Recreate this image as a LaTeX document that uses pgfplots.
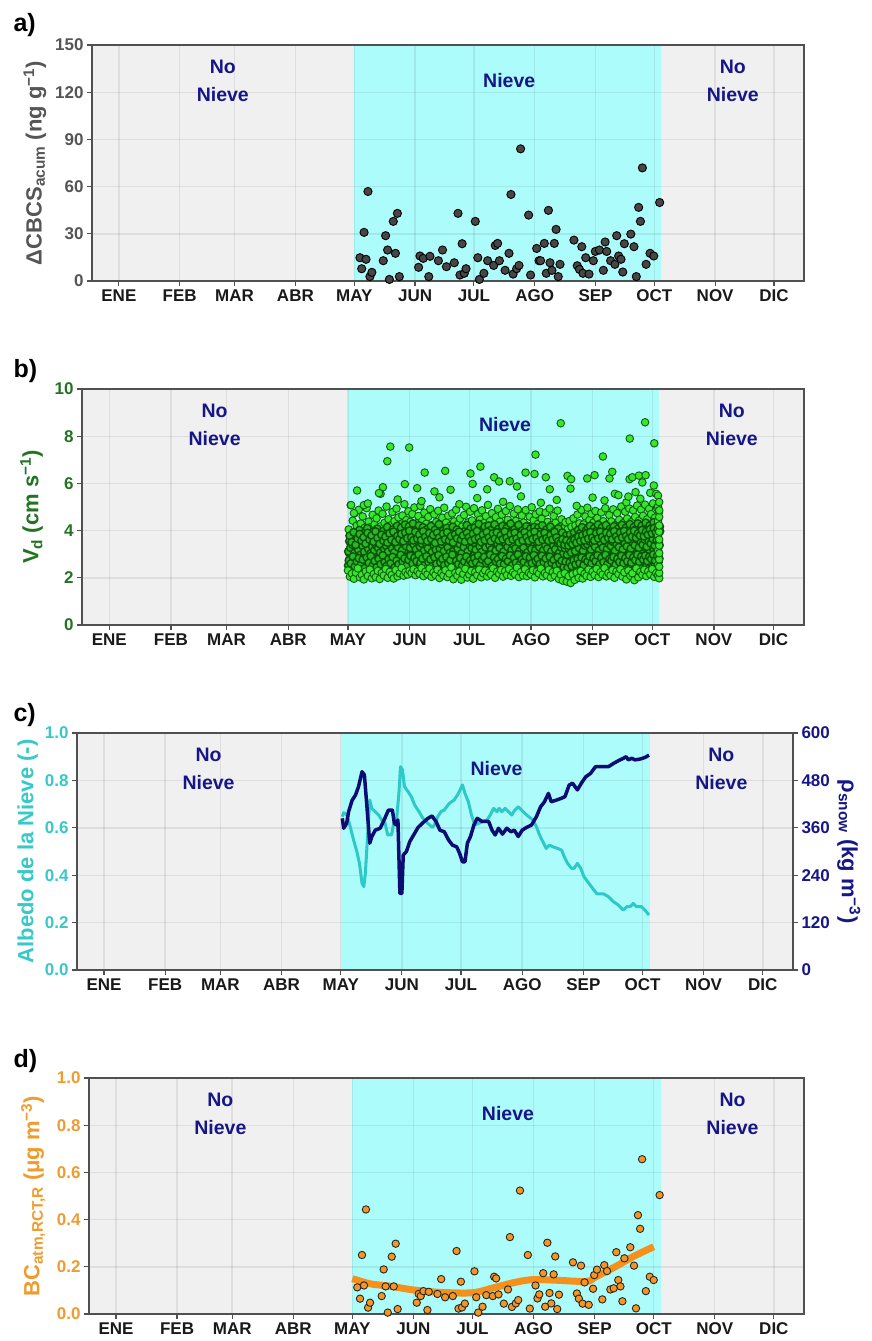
\documentclass[border=0pt]{standalone}
\usepackage{fontspec}
\setmainfont{Liberation Sans}
\usepackage{pgfplots}
\usepackage{pgfplotstable}
\pgfplotsset{compat=1.18}

\definecolor{bggray}{RGB}{240,240,240}
\definecolor{snowc}{RGB}{173,252,252}
\definecolor{axgray}{RGB}{80,80,80}
\definecolor{navytxt}{RGB}{22,22,135}
\definecolor{navyline}{RGB}{12,12,115}
\definecolor{cyanline}{RGB}{45,200,200}
\definecolor{cyantick}{RGB}{55,200,200}
\definecolor{greentxt}{RGB}{35,115,35}
\definecolor{greenfill}{RGB}{55,230,45}
\definecolor{greenedge}{RGB}{12,95,12}
\definecolor{greenmid}{RGB}{40,185,35}
\definecolor{greendark}{RGB}{10,85,10}
\definecolor{orangetxt}{RGB}{240,155,45}
\definecolor{orangefill}{RGB}{245,150,35}
\definecolor{orangeline}{RGB}{244,144,28}
\definecolor{ptgray}{RGB}{70,70,70}
\definecolor{graytxt}{RGB}{85,85,85}
\definecolor{tickblack}{RGB}{25,25,25}

\newcommand{\tickfont}{\fontsize{17}{20}\selectfont\bfseries}
\newcommand{\labfont}{\fontsize{22}{26}\selectfont\bfseries}
\newcommand{\annfont}{\fontsize{19.5}{28}\selectfont\bfseries}
\newcommand{\titfont}{\fontsize{25}{29}\selectfont\bfseries}

\tikzset{annot/.style={font=\annfont, text=navytxt, align=center}}

\pgfplotsset{
  panel/.style={
    set layers,
    scale only axis,
    xmin=-12.7, xmax=350.3,
    xtick={1,32,60,91,121,152,182,213,244,274,305,335},
    xticklabels={ENE,FEB,MAR,ABR,MAY,JUN,JUL,AGO,SEP,OCT,NOV,DIC},
    xtick pos=bottom, ytick pos=left,
    tick align=outside,
    major tick length=5pt,
    tick style={line width=1.2pt, draw=axgray},
    axis line style={line width=1.3pt, draw=axgray},
    grid=major,
    major grid style={line width=1.4pt, draw=black, draw opacity=0.075},
    ticklabel style={font=\tickfont},
    xticklabel style={text=tickblack},
    /pgf/number format/assume math mode=true,
    ylabel style={font=\labfont, anchor=base},
  },
  markB/.style={only marks, mark=*, mark size=3.8pt, mark options={fill=greenfill, draw=greenedge, line width=0.9pt}},
  markBin/.style={only marks, mark=*, mark size=3.8pt, mark options={fill=greenmid, draw=greendark, line width=1.4pt}},
}

% ---------- panel a data ----------
\pgfplotstableread{
d v
123.9 14.8
127.0 13.8
124.8 7.8
129.0 2.8
130.0 5.5
126.0 30.9
128.0 56.9
135.8 12.9
137.0 28.8
138.0 19.7
138.9 1.0
142.0 17.6
140.9 37.9
143.0 43.0
144.0 2.8
153.8 8.7
154.5 15.9
156.2 14.4
159.6 15.7
159.0 2.8
163.9 12.9
166.0 19.7
168.0 9.1
172.0 11.6
173.9 43.0
176.0 23.7
174.9 3.8
177.1 4.9
178.0 7.8
182.7 37.9
184.0 14.8
184.8 1.0
187.1 4.9
189.0 12.9
192.1 9.9
192.9 22.6
194.1 23.9
195.0 12.9
197.9 6.8
199.9 17.6
200.9 55.0
202.0 4.4
203.8 7.8
205.0 9.9
205.8 84.0
209.9 41.9
210.9 3.8
214.0 20.7
215.2 12.9
216.0 12.9
217.9 23.9
218.9 4.9
220.0 44.9
220.8 11.6
221.8 6.8
223.0 23.9
223.9 32.8
225.0 2.8
225.9 10.6
233.0 26.0
234.7 9.7
235.8 7.4
237.0 21.8
237.6 4.9
239.0 14.8
240.7 4.4
242.9 12.9
243.9 18.8
246.0 19.7
248.0 6.8
248.9 24.8
249.7 18.8
251.7 12.9
253.9 10.6
254.8 28.8
255.8 15.9
257.0 13.8
257.9 5.7
258.7 23.7
262.0 29.8
263.6 21.8
264.8 2.8
266.0 46.8
266.9 37.9
267.9 71.9
269.8 10.6
271.8 17.6
273.7 15.9
276.7 49.9
}\tabA

% ---------- panel b data ----------
\pgfplotstableread{
d a b c e f
121 2.31 2.74 3.12 3.55 4.05
122 2.05 2.61 3.28 3.81 5.08
123 2.18 2.90 3.40 3.62 4.42
124 1.96 2.48 3.05 3.90 4.74
125 2.22 2.69 3.33 3.71 4.21
126 2.40 2.83 3.18 4.02 4.88
127 2.02 2.55 2.97 3.49 4.30
128 2.13 2.77 3.36 3.88 4.60
129 1.93 2.41 3.10 3.64 4.12
130 2.27 2.86 3.47 4.10 4.95
131 2.08 2.63 3.22 3.58 4.38
132 2.35 2.92 3.02 3.79 4.15
133 1.98 2.52 3.31 3.95 4.67
134 2.16 2.71 3.15 3.66 4.27
135 2.03 2.45 3.38 4.08 4.52
136 2.29 2.80 3.26 3.73 4.85
137 1.95 2.58 3.07 3.52 4.18
138 2.21 2.95 3.44 3.98 4.71
139 2.10 2.66 3.20 3.84 4.33
140 2.37 2.50 3.35 4.15 5.02
141 2.00 2.79 3.11 3.69 4.48
142 2.25 2.62 3.49 3.93 4.22
143 2.12 2.88 3.24 4.05 4.79
144 1.97 2.44 3.08 3.76 4.40
145 2.33 2.73 3.41 4.20 4.93
146 2.06 2.57 3.29 3.87 4.56
147 2.19 2.97 3.53 4.12 4.26
148 2.42 2.68 3.17 3.82 4.64
149 2.09 2.82 3.46 4.25 5.12
150 2.24 2.51 3.34 3.97 4.45
151 2.14 2.76 3.58 4.18 4.82
152 2.30 2.93 3.27 3.80 4.37
153 2.20 2.60 3.50 4.30 4.70
154 2.36 2.85 3.39 4.01 4.98
155 2.11 2.70 3.21 3.89 4.31
156 2.28 2.99 3.55 4.22 4.62
157 2.17 2.64 3.32 3.96 5.05
158 2.41 2.81 3.45 4.14 4.41
159 2.07 2.53 3.14 3.78 4.76
160 2.26 2.91 3.48 4.06 4.29
161 2.15 2.67 3.25 3.91 4.58
162 2.39 2.78 3.52 4.19 4.91
163 2.04 2.49 3.09 3.70 4.24
164 2.23 2.87 3.37 4.03 4.69
165 2.12 2.59 3.19 3.85 4.36
166 2.34 2.96 3.56 4.27 4.84
167 1.99 2.65 3.23 3.74 4.19
168 2.20 2.80 3.42 3.99 4.55
169 2.10 2.54 3.13 3.83 4.97
170 2.32 2.89 3.47 4.11 4.34
171 2.03 2.62 3.28 3.68 4.63
172 2.18 2.75 3.06 3.92 4.20
173 2.44 2.98 3.51 4.16 4.73
174 1.94 2.47 3.16 3.77 4.39
175 2.21 2.72 3.36 4.04 4.88
176 2.09 2.58 3.24 3.86 4.28
177 2.27 2.84 3.43 3.63 4.51
178 1.92 2.52 3.04 3.75 4.17
179 2.16 2.69 3.30 3.98 4.66
180 2.38 2.90 3.54 4.23 5.01
181 2.01 2.56 3.12 3.72 4.35
182 2.14 2.74 3.40 4.09 4.80
183 2.29 2.61 3.26 3.88 4.43
184 1.96 2.83 3.49 4.13 4.95
185 2.24 2.66 3.19 3.81 4.25
186 2.11 2.94 3.57 4.28 4.70
187 2.35 2.55 3.33 3.94 4.47
188 2.02 2.77 3.10 3.71 4.86
189 2.19 2.88 3.46 4.17 4.32
190 2.31 2.63 3.29 3.90 4.61
191 2.06 2.71 3.53 4.21 5.09
192 2.22 2.97 3.37 4.02 4.40
193 2.13 2.50 3.20 3.84 4.74
194 2.40 2.86 3.59 4.26 4.27
195 2.00 2.68 3.15 3.79 4.57
196 2.26 2.79 3.44 4.07 4.92
197 2.17 2.60 3.27 3.95 4.38
198 2.33 2.92 3.55 4.19 4.68
199 2.05 2.57 3.11 3.73 4.23
200 2.28 2.81 3.48 4.10 4.83
201 2.12 2.70 3.31 3.92 4.46
202 2.37 2.95 3.60 4.29 5.04
203 2.08 2.53 3.18 3.82 4.30
204 2.23 2.84 3.42 4.05 4.72
205 2.15 2.64 3.25 3.87 4.41
206 2.43 2.99 3.62 4.24 4.90
207 2.03 2.58 3.14 3.76 4.26
208 2.25 2.78 3.39 4.00 4.64
209 2.10 2.67 3.28 3.93 4.34
210 2.36 2.91 3.56 4.18 4.87
211 2.07 2.54 3.08 3.74 4.21
212 2.21 2.85 3.45 4.08 4.59
213 2.14 2.62 3.22 3.89 4.99
214 2.32 2.96 3.51 4.15 4.44
215 2.02 2.71 3.17 3.80 4.69
216 2.27 2.80 3.47 4.12 4.28
217 2.18 2.59 3.30 3.96 4.81
218 2.39 2.93 3.58 4.22 4.50
219 2.06 2.66 3.16 3.78 4.19
220 2.20 2.82 3.40 4.04 4.76
221 2.11 2.55 3.23 3.86 4.37
222 2.34 2.89 3.52 4.16 4.93
223 2.01 2.63 3.12 3.71 4.24
224 2.24 2.76 3.38 3.98 4.62
225 2.09 2.51 3.21 3.84 4.33
226 2.30 2.87 3.49 4.09 4.85
227 1.95 2.60 3.06 3.67 4.15
228 2.13 2.72 3.29 3.91 4.48
229 1.88 2.46 3.02 3.60 4.10
230 2.19 2.68 3.24 3.79 4.36
231 1.84 2.43 2.98 3.55 4.05
232 2.07 2.65 3.20 3.83 4.41
233 1.78 2.50 3.07 3.63 4.16
234 2.15 2.74 3.33 3.92 4.52
235 1.91 2.57 3.13 3.70 4.22
236 2.22 2.80 3.41 4.03 4.68
237 2.00 2.62 3.26 3.88 4.31
238 2.29 2.86 3.50 4.14 4.88
239 1.97 2.54 3.15 3.77 4.26
240 2.17 2.78 3.36 4.01 4.60
241 2.08 2.69 3.43 4.11 4.97
242 2.35 2.91 3.55 4.20 4.45
243 2.04 2.61 3.19 3.85 4.71
244 2.26 2.83 3.46 4.10 4.34
245 2.12 2.70 3.31 3.97 4.83
246 2.38 2.95 3.60 4.25 4.53
247 2.03 2.58 3.17 3.81 4.29
248 2.24 2.85 3.48 4.13 4.77
249 2.14 2.66 3.28 3.94 4.40
250 2.41 2.97 3.57 4.23 4.95
251 2.06 2.59 3.22 3.87 4.27
252 2.21 2.79 3.44 4.07 4.66
253 2.10 2.73 3.35 4.00 4.39
254 2.33 2.88 3.53 4.18 4.90
255 2.00 2.55 3.14 3.78 4.23
256 2.27 2.81 3.42 4.08 4.74
257 2.16 2.67 3.30 3.95 4.46
258 2.36 2.93 3.59 4.24 5.02
259 2.05 2.62 3.20 3.83 4.32
260 2.23 2.84 3.47 4.12 4.80
261 1.93 2.70 3.33 4.02 4.51
262 2.31 2.96 3.61 4.27 4.94
263 2.09 2.64 3.24 3.90 4.36
264 2.19 2.87 3.50 4.15 4.86
265 1.90 2.75 3.38 4.05 4.58
266 2.40 2.98 3.63 4.30 5.06
267 2.02 2.68 3.27 3.93 4.42
268 2.25 2.90 3.54 4.21 4.89
269 2.13 2.77 3.40 4.06 4.63
270 2.34 2.94 3.62 4.33 5.10
271 2.07 2.71 3.32 3.99 4.48
272 2.28 2.89 3.56 4.22 4.92
273 2.15 2.80 3.45 4.11 4.70
274 2.37 2.99 3.65 4.35 5.15
275 2.04 2.73 3.36 4.03 4.55
276 2.20 2.92 3.58 4.26 4.96
277 2.11 2.82 3.49 4.17 4.79
}\tabB

\pgfplotstableread{
d g h k
121 2.52 3.05 3.78
122 2.38 2.88 3.51
123 2.64 3.21 3.93
124 2.27 2.97 3.40
125 2.55 3.12 3.66
126 2.19 2.79 3.85
127 2.47 3.30 3.58
128 2.33 2.92 3.72
129 2.61 3.16 3.45
130 2.15 2.84 3.90
131 2.43 3.25 3.62
132 2.70 3.01 3.79
133 2.29 2.90 3.53
134 2.58 3.18 3.96
135 2.21 3.35 3.69
136 2.49 2.86 3.44
137 2.36 3.09 3.82
138 2.66 3.27 3.57
139 2.24 2.95 3.74
140 2.53 3.14 3.49
141 2.41 3.32 3.88
142 2.72 2.99 3.61
143 2.31 3.20 3.95
144 2.59 2.87 3.52
145 2.17 3.11 3.77
146 2.45 3.29 3.64
147 2.63 3.03 3.86
148 2.26 3.22 3.55
149 2.51 2.93 3.92
150 2.39 3.17 3.68
151 2.68 3.36 3.99
152 2.22 3.06 3.71
153 2.56 3.26 3.59
154 2.34 2.98 3.94
155 2.62 3.19 3.66
156 2.44 3.38 3.83
157 2.73 3.08 3.60
158 2.28 3.24 3.97
159 2.57 2.96 3.73
160 2.40 3.15 3.56
161 2.69 3.33 3.89
162 2.25 3.02 3.65
163 2.54 3.23 3.81
164 2.37 2.94 3.48
165 2.65 3.13 3.91
166 2.20 3.31 3.70
167 2.48 3.04 3.54
168 2.60 3.21 3.87
169 2.32 2.89 3.63
170 2.67 3.12 3.93
171 2.43 3.28 3.58
172 2.55 3.00 3.76
173 2.23 3.19 3.50
174 2.50 2.91 3.84
175 2.38 3.14 3.67
176 2.64 3.34 3.95
177 2.30 3.05 3.61
178 2.58 3.22 3.79
179 2.45 2.95 3.53
180 2.71 3.16 3.90
181 2.27 3.37 3.72
182 2.53 3.07 3.57
183 2.42 3.25 3.86
184 2.66 2.97 3.64
185 2.35 3.18 3.98
186 2.59 3.30 3.69
187 2.21 3.03 3.52
188 2.49 3.20 3.83
189 2.62 2.92 3.60
190 2.33 3.13 3.94
191 2.56 3.35 3.71
192 2.44 3.06 3.55
193 2.70 3.24 3.88
194 2.26 2.99 3.66
195 2.52 3.17 3.92
196 2.39 3.32 3.59
197 2.65 3.04 3.80
198 2.31 3.21 3.63
199 2.57 2.94 3.96
200 2.46 3.15 3.70
201 2.68 3.36 3.54
202 2.24 3.08 3.85
203 2.51 3.26 3.62
204 2.40 2.98 3.91
205 2.63 3.19 3.67
206 2.29 3.33 3.50
207 2.55 3.01 3.81
208 2.42 3.23 3.58
209 2.69 2.93 3.93
210 2.34 3.12 3.72
211 2.58 3.30 3.56
212 2.47 3.05 3.87
213 2.72 3.22 3.64
214 2.22 2.96 3.95
215 2.50 3.16 3.69
216 2.37 3.34 3.53
217 2.61 3.07 3.84
218 2.45 3.25 3.61
219 2.67 2.97 3.90
220 2.30 3.18 3.68
221 2.54 3.31 3.57
222 2.41 3.02 3.82
223 2.64 3.20 3.62
224 2.28 2.92 3.94
225 2.52 3.11 3.71
226 2.39 3.29 3.55
227 2.20 2.90 3.46
228 2.43 3.06 3.63
229 2.14 2.85 3.40
230 2.36 3.00 3.58
231 2.10 2.78 3.37
232 2.33 2.96 3.52
233 2.05 2.82 3.43
234 2.40 3.03 3.61
235 2.18 2.88 3.49
236 2.48 3.10 3.74
237 2.27 2.95 3.56
238 2.55 3.19 3.80
239 2.32 3.02 3.59
240 2.60 3.24 3.87
241 2.44 3.09 3.66
242 2.66 3.28 3.93
243 2.35 3.04 3.70
244 2.59 3.22 3.58
245 2.47 3.13 3.89
246 2.70 3.35 3.67
247 2.31 3.07 3.95
248 2.56 3.26 3.73
249 2.43 2.99 3.60
250 2.68 3.21 3.91
251 2.38 3.37 3.69
252 2.62 3.10 3.86
253 2.45 3.27 3.63
254 2.71 3.01 3.97
255 2.34 3.23 3.75
256 2.58 3.15 3.62
257 2.49 3.32 3.92
258 2.73 3.08 3.71
259 2.36 3.25 3.98
260 2.61 3.18 3.77
261 2.44 3.36 3.64
262 2.69 3.11 3.93
263 2.40 3.29 3.74
264 2.64 3.05 3.99
265 2.32 3.22 3.70
266 2.59 3.39 3.88
267 2.48 3.14 3.79
268 2.75 3.31 4.02
269 2.42 3.09 3.76
270 2.66 3.27 3.95
271 2.53 3.41 3.83
272 2.38 3.16 4.05
273 2.70 3.34 3.88
274 2.47 3.20 4.10
275 2.62 3.44 3.92
276 2.41 3.12 4.08
277 2.68 3.38 3.97
}\tabBb

\pgfplotstableread{
d v
125.6 5.70
122.6 5.08
129.0 5.08
124.0 4.74
131.0 5.15
138.6 5.84
137.4 5.56
136.6 5.59
140.8 6.94
142.3 7.56
146.0 5.32
149.6 5.97
151.8 7.52
155.8 5.80
158.0 5.25
159.6 6.46
164.5 5.66
167.0 5.41
169.9 6.53
172.6 5.73
177.0 5.12
182.6 6.42
183.7 5.98
186.0 5.38
187.6 6.71
191.0 5.75
194.5 6.26
197.0 6.08
199.0 5.22
202.4 6.09
206.0 5.87
208.0 5.45
210.3 6.46
214.8 6.40
215.3 7.22
218.0 5.18
220.5 6.26
222.5 5.75
226.0 5.30
228.0 8.55
231.4 6.32
232.9 5.78
233.2 6.18
236.0 5.05
241.3 6.21
244.0 5.40
245.0 6.35
249.2 7.14
250.0 5.28
252.5 6.21
253.9 6.49
255.2 5.56
257.0 5.50
261.0 5.20
262.0 5.44
262.6 6.18
262.7 7.90
264.0 6.26
265.6 5.63
267.3 6.33
268.0 5.35
269.0 6.04
270.4 8.59
270.7 6.35
273.0 5.60
274.8 5.91
275.0 7.70
276.0 5.56
276.9 2.09
276.9 2.55
276.9 3.15
276.9 3.80
276.9 4.40
276.9 5.02
276.9 5.48
277.5 1.98
277.5 2.21
277.5 2.47
277.5 2.78
277.5 3.04
277.5 3.37
277.5 3.62
277.5 3.95
277.5 4.22
277.5 4.58
277.5 4.86
277.5 5.21
}\tabBout

% ---------- panel c data ----------
\pgfplotstableread{
d alb
121.8 0.647
122.5 0.664
124.2 0.654
125.8 0.605
127.5 0.549
129.2 0.499
130.5 0.450
131.8 0.366
132.7 0.352
133.5 0.408
134.7 0.577
135.7 0.717
136.8 0.682
138.5 0.668
140.2 0.654
141.8 0.633
143.5 0.619
144.8 0.570
146.8 0.570
147.7 0.612
149.3 0.633
150.5 0.745
151.3 0.858
152.3 0.844
153.3 0.774
155.2 0.752
156.8 0.731
158.5 0.696
160.7 0.668
162.7 0.640
165.2 0.619
167.3 0.602
168.5 0.612
170.2 0.647
171.8 0.668
173.5 0.675
176.0 0.703
178.5 0.717
180.7 0.745
182.7 0.781
184.0 0.745
185.7 0.710
187.3 0.654
189.0 0.612
191.0 0.619
193.0 0.626
195.2 0.633
196.8 0.654
198.5 0.682
200.2 0.668
201.3 0.682
202.7 0.668
204.3 0.682
206.0 0.668
207.7 0.654
209.3 0.675
211.0 0.689
212.7 0.675
214.3 0.661
216.3 0.647
218.5 0.633
220.2 0.605
221.8 0.570
223.5 0.541
225.2 0.513
226.8 0.527
228.5 0.520
231.0 0.513
233.0 0.506
234.3 0.478
236.0 0.450
238.0 0.429
239.3 0.429
241.0 0.450
242.7 0.429
244.3 0.394
246.8 0.366
249.3 0.338
251.0 0.321
254.3 0.321
256.8 0.309
259.3 0.288
261.8 0.274
264.3 0.253
266.0 0.267
267.7 0.267
269.3 0.281
271.0 0.267
273.5 0.267
275.2 0.253
277.3 0.232
}\tabCa

\pgfplotstableread{
d rho
121.8 384
122.5 359
124.0 371
125.0 401
126.8 430
128.5 443
130.0 464
131.8 502
133.0 494
134.3 413
135.7 321
136.8 338
138.5 354
141.0 359
143.0 380
145.2 405
147.2 405
148.2 371
149.3 367
150.0 380
151.0 194
152.0 194
152.7 291
154.3 300
156.0 325
158.0 342
160.2 361
162.7 373
165.2 384
167.3 390
169.3 376
171.3 354
173.5 350
175.7 329
177.7 316
179.8 312
181.3 295
182.7 274
184.0 274
185.2 321
186.8 338
188.5 367
190.2 384
192.7 376
196.0 376
197.7 354
199.3 342
201.0 359
203.0 344
205.2 359
207.3 350
209.0 354
211.0 338
213.0 354
215.2 361
217.7 367
220.2 388
222.3 413
224.3 426
226.3 447
227.7 426
230.2 430
233.0 435
234.7 439
236.8 468
238.5 473
241.0 456
243.0 473
245.2 489
247.7 498
250.2 515
252.7 515
256.8 515
259.3 523
261.8 530
264.3 536
265.7 540
266.8 532
268.5 536
270.2 532
272.7 534
275.2 538
277.3 544
}\tabCr

% ---------- panel d data ----------
\pgfplotstableread{
d v
123.5 0.113
124.9 0.065
126.9 0.121
125.9 0.250
127.9 0.443
129.0 0.027
130.0 0.048
135.9 0.076
136.9 0.189
137.9 0.117
139.0 0.006
141.0 0.243
142.0 0.117
143.0 0.298
144.0 0.021
153.7 0.048
154.7 0.085
155.7 0.076
157.1 0.097
159.1 0.017
159.8 0.094
164.2 0.085
166.1 0.148
168.1 0.071
172.0 0.076
173.9 0.267
176.1 0.137
174.9 0.023
176.7 0.028
178.1 0.044
183.0 0.181
183.9 0.071
184.9 0.006
187.1 0.031
189.0 0.080
192.3 0.076
193.0 0.158
194.0 0.151
195.2 0.083
197.9 0.044
200.0 0.104
201.0 0.326
202.0 0.030
204.0 0.045
205.2 0.059
206.1 0.523
210.1 0.250
211.1 0.023
214.0 0.121
215.0 0.066
215.9 0.083
217.9 0.173
218.9 0.031
220.0 0.302
221.1 0.089
222.0 0.045
223.2 0.168
224.0 0.244
225.0 0.021
225.9 0.082
233.0 0.219
235.0 0.087
236.0 0.065
237.1 0.205
237.9 0.044
238.9 0.134
241.0 0.039
243.2 0.107
243.8 0.165
245.2 0.188
247.9 0.062
248.9 0.207
250.3 0.182
252.0 0.104
253.7 0.109
255.0 0.262
256.0 0.144
257.1 0.117
258.1 0.054
259.1 0.236
262.1 0.283
264.0 0.205
265.0 0.024
266.0 0.419
267.1 0.361
268.1 0.656
270.0 0.097
272.0 0.158
274.0 0.144
277.0 0.504
}\tabD

\pgfplotstableread{
d v
121 0.150
130 0.128
140 0.118
152 0.102
165 0.092
182 0.090
193 0.112
204 0.135
213 0.146
225 0.143
240 0.138
244 0.155
254 0.198
264 0.245
274 0.285
}\tabDs

\begin{document}
\begin{tikzpicture}[x=1pt,y=1pt]

% ================= a) =================
\node[anchor=base west, font=\titfont] at (10pt,-31.5pt) {a)};
\begin{axis}[panel,
  at={(92pt,-281pt)}, anchor=south west,
  width=712pt, height=236pt,
  ymin=0, ymax=150, ytick={0,30,60,90,120,150},
  yticklabel style={text=graytxt},
  ylabel={ΔCBCS\textsubscript{acum} (ng g\textsuperscript{−1})},
  ylabel style={text=graytxt, at={(axis description cs:-0.0706,0.5)}},
]
\addplot[on layer=axis background, fill=bggray, draw=none] coordinates {(-12.7,150) (350.3,150)} \closedcycle;
\addplot[on layer=axis background, fill=snowc, draw=none] coordinates {(121,150) (277.6,150)} \closedcycle;
\addplot[only marks, mark=*, mark size=4.1pt, mark options={fill=ptgray, draw=black, line width=0.9pt}] table[x=d, y=v] {\tabA};
\node[annot] at (axis cs:54,127.5) {No\\Nieve};
\node[annot] at (axis cs:200,127.5) {Nieve};
\node[annot] at (axis cs:314,127.5) {No\\Nieve};
\end{axis}

% ================= b) =================
\node[anchor=base west, font=\titfont] at (10pt,-377.3pt) {b)};
\begin{axis}[panel,
  at={(82pt,-625pt)}, anchor=south west,
  width=722pt, height=236pt,
  ymin=0, ymax=10, ytick={0,2,4,6,8,10},
  yticklabel style={text=greentxt},
  ylabel={V\textsubscript{d} (cm s\textsuperscript{−1})},
  ylabel style={text=greentxt, at={(axis description cs:-0.0605,0.5)}},
]
\addplot[on layer=axis background, fill=bggray, draw=none] coordinates {(-12.7,10) (350.3,10)} \closedcycle;
\addplot[on layer=axis background, fill=snowc, draw=none] coordinates {(121,10) (277.6,10)} \closedcycle;
\addplot[markB] table[x expr=\thisrow{d}+0.4, y=f] {\tabB};
\addplot[markBin] table[x expr=\thisrow{d}+0.62, y=h] {\tabBb};
\addplot[markBin] table[x expr=\thisrow{d}+0.75, y=e] {\tabB};
\addplot[markBin] table[x expr=\thisrow{d}+0.25, y=c] {\tabB};
\addplot[markBin] table[x expr=\thisrow{d}+0.88, y=k] {\tabBb};
\addplot[markBin] table[x expr=\thisrow{d}+0.15, y=g] {\tabBb};
\addplot[markBin] table[x expr=\thisrow{d}+0.5, y=b] {\tabB};
\addplot[markB] table[x=d, y=a] {\tabB};
\addplot[markB] table[x=d, y=v] {\tabBout};
\node[annot] at (axis cs:54,8.5) {No\\Nieve};
\node[annot] at (axis cs:200,8.5) {Nieve};
\node[annot] at (axis cs:314,8.5) {No\\Nieve};
\end{axis}

% ================= c) =================
\node[anchor=base west, font=\titfont] at (10pt,-721.5pt) {c)};
\begin{axis}[panel,
  at={(77pt,-970pt)}, anchor=south west,
  width=716pt, height=237pt,
  ymin=0, ymax=1, ytick={0,0.2,0.4,0.6,0.8,1},
  yticklabel style={text=cyantick, /pgf/number format/.cd, fixed, fixed zerofill, precision=1},
  ylabel={Albedo de la Nieve (-)},
  ylabel style={text=cyantick, at={(axis description cs:-0.0610,0.5)}},
]
\addplot[on layer=axis background, fill=bggray, draw=none] coordinates {(-12.7,1) (350.3,1)} \closedcycle;
\addplot[on layer=axis background, fill=snowc, draw=none] coordinates {(121,1) (277.6,1)} \closedcycle;
\addplot[cyanline, line width=3pt, line join=round] table[x=d, y=alb] {\tabCa};
\end{axis}
\begin{axis}[
  set layers,
  scale only axis,
  at={(77pt,-970pt)}, anchor=south west,
  width=716pt, height=237pt,
  xmin=-12.7, xmax=350.3,
  ymin=0, ymax=600, ytick={0,120,240,360,480,600},
  axis x line=none, axis y line*=right,
  ytick pos=right,
  tick align=outside,
  major tick length=5pt,
  tick style={line width=1.2pt, draw=axgray},
  axis line style={-, line width=1.3pt, draw=axgray},
  ticklabel style={font=\tickfont},
  yticklabel style={text=navytxt},
  /pgf/number format/assume math mode=true,
  ylabel={ρ\textsubscript{snow} (kg m\textsuperscript{−3})},
  ylabel style={font=\labfont, text=navytxt, at={(axis description cs:1.0684,0.5)}, anchor=base, rotate=180},
]
\addplot[navyline, line width=3.5pt, line join=round] table[x=d, y=rho] {\tabCr};
\node[annot] at (axis cs:54,510) {No\\Nieve};
\node[annot] at (axis cs:200,510) {Nieve};
\node[annot] at (axis cs:314,510) {No\\Nieve};
\end{axis}

% ================= d) =================
\node[anchor=base west, font=\titfont] at (10pt,-1067.3pt) {d)};
\begin{axis}[panel,
  at={(89pt,-1314pt)}, anchor=south west,
  width=715pt, height=236pt,
  ymin=0, ymax=1, ytick={0,0.2,0.4,0.6,0.8,1},
  yticklabel style={text=orangetxt, /pgf/number format/.cd, fixed, fixed zerofill, precision=1},
  ylabel={BC\textsubscript{atm,RCT,R} (μg m\textsuperscript{−3})},
  ylabel style={text=orangetxt, at={(axis description cs:-0.0695,0.5)}},
]
\addplot[on layer=axis background, fill=bggray, draw=none] coordinates {(-12.7,1) (350.3,1)} \closedcycle;
\addplot[on layer=axis background, fill=snowc, draw=none] coordinates {(121,1) (277.6,1)} \closedcycle;
\addplot[orangeline, line width=7pt, smooth, tension=0.5] table[x=d, y=v] {\tabDs};
\addplot[only marks, mark=*, mark size=3.7pt, mark options={fill=orangefill, draw=black!85, line width=0.9pt}] table[x=d, y=v] {\tabD};
\node[annot] at (axis cs:54,0.85) {No\\Nieve};
\node[annot] at (axis cs:200,0.85) {Nieve};
\node[annot] at (axis cs:314,0.85) {No\\Nieve};
\end{axis}

\useasboundingbox (0pt,0pt) rectangle (872pt,-1341pt);
\end{tikzpicture}
\end{document}
